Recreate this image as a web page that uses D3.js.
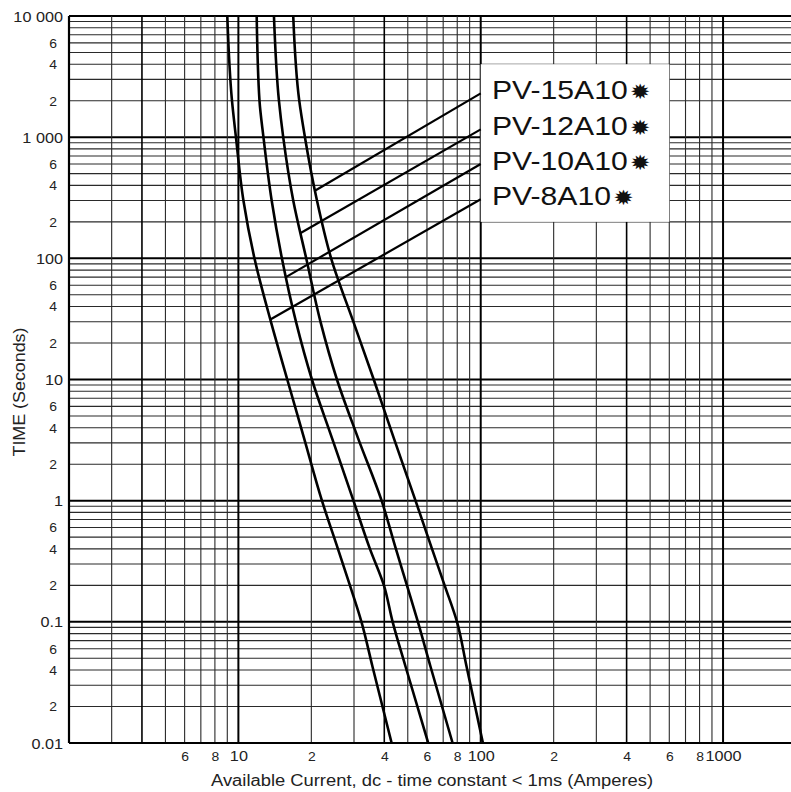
<!DOCTYPE html>
<html>
<head>
<meta charset="utf-8">
<script src="https://cdn.jsdelivr.net/npm/d3@7"></script>
<style>
  body { margin: 0; background: #fff; }
  svg { display: block; font-family: "Liberation Sans", Arial, "DejaVu Sans", sans-serif; }
</style>
</head>
<body>
<svg id="chart"></svg>
<script>
const width = 791;
const height = 792;

// temps (s) communs aux courbes
const times = [10000, 2000, 1000, 300, 100, 30, 10, 3.3, 1, 0.4, 0.2, 0.1, 0.043, 0.01];
// courant (A) pour chaque fusible
const pv8  = [9.00, 9.41, 9.77, 10.49, 11.65, 13.62, 15.91, 18.65, 22.12, 25.75, 28.86, 32.20, 35.73, 42.89];
const pv10 = [11.90, 12.22, 12.69, 13.72, 15.12, 17.28, 20.11, 24.32, 29.84, 34.90, 39.86, 43.30, 48.91, 60.72];
const pv12 = [14.02, 14.70, 15.31, 16.84, 19.05, 21.81, 25.51, 31.14, 39.00, 44.67, 49.61, 55.06, 62.00, 76.55];
const pv15 = [16.84, 17.83, 18.82, 21.10, 24.14, 29.81, 36.19, 43.75, 53.82, 62.95, 70.96, 79.83, 87.37, 102.1];

// légende + traits de rappel
const legendLabels = ["PV-15A10", "PV-12A10", "PV-10A10", "PV-8A10"];
const leaderStartT = [2300, 1160, 600, 307];
const leaderEndA = [20.6, 18, 15.7, 13.6];
const leaderEndT = [360, 161, 70, 31.4];

// graduations
const xTickVals = [6, 8, 10, 20, 40, 60, 80, 100, 200, 400, 600, 800, 1000];
const xTickLabels = ["6", "8", "10", "2", "4", "6", "8", "100", "2", "4", "6", "8", "1000"];
const yTickVals = [10000, 6000, 4000, 2000, 1000, 600, 400, 200, 100, 60, 40, 20, 10, 6, 4, 2,
                   1, 0.6, 0.4, 0.2, 0.1, 0.06, 0.04, 0.02, 0.01];
const yTickLabels = ["10 000", "6", "4", "2", "1 000", "6", "4", "2", "100", "6", "4", "2", "10", "6", "4", "2",
                     "1", "6", "4", "2", "0.1", "6", "4", "2", "0.01"];

const svg = d3.select("#chart")
  .attr("width", width)
  .attr("height", height);

svg.append("rect").attr("width", width).attr("height", height).attr("fill", "#fff");

const x = d3.scaleLog().domain([2, 2000]).range([69, 796]);
const y = d3.scaleLog().domain([0.01, 10000]).range([743, 16]);

const isDecade = v => Math.abs(Math.log10(v) - Math.round(Math.log10(v))) < 1e-6;
const isFour = v => isDecade(v / 4);

// grille
const grid = svg.append("g");
grid.selectAll(".hl")
  .data(y.ticks())
  .join("line")
  .attr("x1", x.range()[0]).attr("x2", x.range()[1])
  .attr("y1", d => y(d)).attr("y2", d => y(d))
  .attr("stroke", d => isDecade(d) ? "#000" : "#2a2a2a")
  .attr("stroke-width", d => isDecade(d) ? 2 : 1.1);

grid.selectAll(".vl")
  .data(x.ticks())
  .join("line")
  .attr("x1", d => x(d)).attr("x2", d => x(d))
  .attr("y1", y.range()[0]).attr("y2", y.range()[1])
  .attr("stroke", d => (isDecade(d) || isFour(d)) ? "#000" : "#2a2a2a")
  .attr("stroke-width", d => isDecade(d) ? 2 : isFour(d) ? 1.6 : 1.1);

// bords
svg.append("line")
  .attr("x1", x(2)).attr("x2", x(2)).attr("y1", y(10000)).attr("y2", y(0.01))
  .attr("stroke", "#000").attr("stroke-width", 2.2);
svg.append("line")
  .attr("x1", x(2)).attr("x2", width).attr("y1", y(0.01)).attr("y2", y(0.01))
  .attr("stroke", "#000").attr("stroke-width", 2.2);

// cadre blanc de la légende
svg.append("rect")
  .attr("x", x(100)).attr("y", y(4000))
  .attr("width", x(600) - x(100)).attr("height", y(200) - y(4000))
  .attr("fill", "#fff");

// courbes
const line = d3.line()
  .x(d => x(d[0]))
  .y(d => y(d[1]))
  .curve(d3.curveMonotoneY);

[pv8, pv10, pv12, pv15].forEach(serie => {
  svg.append("path")
    .datum(serie.map((a, i) => [a, times[i]]))
    .attr("d", line)
    .attr("fill", "none")
    .attr("stroke", "#000")
    .attr("stroke-width", 2.6);
});

// traits de rappel
svg.selectAll(".leader")
  .data(legendLabels)
  .join("line")
  .attr("x1", x(100)).attr("y1", (d, i) => y(leaderStartT[i]))
  .attr("x2", (d, i) => x(leaderEndA[i])).attr("y2", (d, i) => y(leaderEndT[i]))
  .attr("stroke", "#000").attr("stroke-width", 2.2);

// textes de légende
legendLabels.forEach((lab, i) => {
  const t = svg.append("text")
    .attr("transform", `translate(492,${y(leaderStartT[i]) + 5.5}) scale(1.16,1)`)
    .attr("font-size", 26)
    .attr("fill", "#111");
  t.append("tspan").text(lab);
  t.append("tspan")
    .attr("dx", 2)
    .attr("font-size", 21)
    .attr("font-family", "DejaVu Sans")
    .text("\u2739");
});

// axe X
const xAxis = svg.append("g")
  .attr("transform", `translate(0,${y(0.01)})`)
  .call(d3.axisBottom(x).tickValues(xTickVals).tickFormat((d, i) => xTickLabels[i]).tickSize(0));
xAxis.attr("font-family", null).attr("font-size", null);
xAxis.select(".domain").remove();
xAxis.selectAll("text")
  .attr("y", 18.5).attr("dy", null)
  .attr("font-size", d => isDecade(d) ? 14 : 12)
  .attr("transform", "scale(1.16,1)")
  .attr("fill", "#222");

// axe Y
const yAxis = svg.append("g")
  .attr("transform", `translate(${x(2)},0)`)
  .call(d3.axisLeft(y).tickValues(yTickVals).tickFormat((d, i) => yTickLabels[i]).tickSize(0));
yAxis.attr("font-family", null).attr("font-size", null);
yAxis.select(".domain").remove();
yAxis.selectAll("text")
  .attr("x", d => isDecade(d) ? -6 / 1.16 : -12 / 1.16)
  .attr("dy", "0.36em")
  .attr("font-size", d => isDecade(d) ? 14 : 12)
  .attr("transform", "scale(1.16,1)")
  .attr("fill", "#222");

// titres
svg.append("text")
  .attr("x", 432).attr("y", 786)
  .attr("text-anchor", "middle")
  .attr("font-size", 16)
  .attr("textLength", 442)
  .attr("lengthAdjust", "spacingAndGlyphs")
  .attr("fill", "#222")
  .text("Available Current,  dc - time constant < 1ms (Amperes)");

svg.append("text")
  .attr("transform", "translate(24.5,392) rotate(-90)")
  .attr("text-anchor", "middle")
  .attr("font-size", 16)
  .attr("textLength", 129)
  .attr("lengthAdjust", "spacingAndGlyphs")
  .attr("fill", "#222")
  .text("TIME (Seconds)");
</script>
</body>
</html>
